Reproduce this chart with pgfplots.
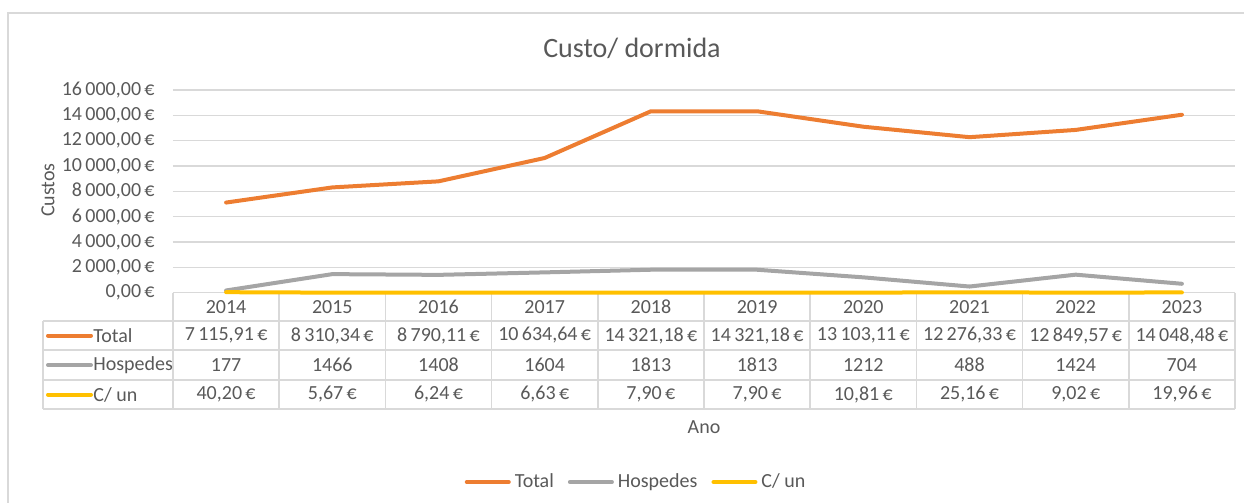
\documentclass[border=0pt]{standalone}
\usepackage{pgfplots}
\pgfplotsset{compat=1.18}
\usepackage{fontspec}
\setmainfont{Carlito}
\definecolor{cOrange}{HTML}{ED7D31}
\definecolor{cGray}{HTML}{A5A5A5}
\definecolor{cYellow}{HTML}{FFC000}
\definecolor{cGrid}{HTML}{D9D9D9}
\definecolor{cText}{HTML}{595959}
\begin{document}
\begin{tikzpicture}[font=\fontsize{10}{12}\selectfont, text=cText]
\useasboundingbox (0,0) rectangle (622pt,-251.5pt);
\draw[cGrid, line width=1pt] (4pt,-251.5pt) -- (4pt,-6.5pt) -- (622pt,-6.5pt);
% data table grid
\begin{scope}[cGrid, line width=0.75pt]
\draw (86.5pt,-146.35pt) -- (617.5pt,-146.35pt);
\foreach \yy in {160.5,175,190,204.5} \draw (21.5pt,-\yy pt) -- (617.5pt,-\yy pt);
\draw (21.5pt,-160.5pt) -- (21.5pt,-204.5pt);
\foreach \k in {0,...,10} \draw ({86.5pt+53.1pt*\k},-146.35pt) -- ({86.5pt+53.1pt*\k},-204.5pt);
\end{scope}
\begin{axis}[
 at={(86.5pt,-146.35pt)}, anchor=south west, scale only axis,
 width=531pt, height=101.35pt,
 xmin=-0.5, xmax=9.5, ymin=0, ymax=16000,
 xtick=\empty, ytick={0,2000,...,16000},
 ymajorgrids, grid style={cGrid, line width=0.75pt},
 axis line style={draw=none}, major tick length=0pt,
 scaled y ticks=false,
 /pgf/number format/assume math mode=true,
 yticklabel={\pgfmathprintnumber[fixed,fixed zerofill,precision=2,use comma,1000 sep={\,}]{\tick}\,€},
 yticklabel style={anchor=east, inner sep=0pt, xshift=-9pt, text=cText, font=\fontsize{10}{12}\selectfont},
 clip=false,
 legend style={at={(0.437,-0.934)}, anchor=center, draw=none, fill=none,
   font=\fontsize{10}{12}\selectfont, text=cText,
   /tikz/every even column/.append style={column sep=5pt}},
 legend columns=3, legend cell align=left,
 legend image code/.code={\draw[#1, line width=2pt] (0pt,0pt) -- (21pt,0pt);},
]
\addplot[cOrange, line width=2pt, line join=round, line cap=round] coordinates {
 (0,7115.91) (1,8310.34) (2,8790.11) (3,10634.64) (4,14321.18)
 (5,14321.18) (6,13103.11) (7,12276.33) (8,12849.57) (9,14048.48)};
\addlegendentry{Total}
\addplot[cGray, line width=2pt, line join=round, line cap=round] coordinates {
 (0,177) (1,1466) (2,1408) (3,1604) (4,1813)
 (5,1813) (6,1212) (7,488) (8,1424) (9,704)};
\addlegendentry{Hospedes}
\addplot[cYellow, line width=2pt, line join=round, line cap=round] coordinates {
 (0,40.20) (1,5.67) (2,6.24) (3,6.63) (4,7.90)
 (5,7.90) (6,10.81) (7,25.16) (8,9.02) (9,19.96)};
\addlegendentry{C/ un}
\end{axis}
\foreach \y [count=\i from 0] in {2014,2015,2016,2017,2018,2019,2020,2021,2022,2023}
  \node at ({113.05pt+53.1pt*\i},-153.4pt) {\y};
\foreach \v [count=\i from 0] in {{7\,115,91\,€},{8\,310,34\,€},{8\,790,11\,€},{10\,634,64\,€},{14\,321,18\,€},{14\,321,18\,€},{13\,103,11\,€},{12\,276,33\,€},{12\,849,57\,€},{14\,048,48\,€}}
  \node at ({113.05pt+53.1pt*\i},-167.75pt) {\v};
\foreach \v [count=\i from 0] in {177,1466,1408,1604,1813,1813,1212,488,1424,704}
  \node at ({113.05pt+53.1pt*\i},-182.5pt) {\v};
\foreach \v [count=\i from 0] in {{40,20\,€},{5,67\,€},{6,24\,€},{6,63\,€},{7,90\,€},{7,90\,€},{10,81\,€},{25,16\,€},{9,02\,€},{19,96\,€}}
  \node at ({113.05pt+53.1pt*\i},-197.25pt) {\v};
\draw[cOrange, line width=2pt, line cap=round] (24pt,-167.75pt) -- (45.5pt,-167.75pt);
\node[anchor=west, inner sep=0pt] at (46.5pt,-167.75pt) {Total};
\draw[cGray, line width=2pt, line cap=round] (24pt,-182.5pt) -- (45.5pt,-182.5pt);
\node[anchor=west, inner sep=0pt] at (46.5pt,-182.5pt) {Hospedes};
\draw[cYellow, line width=2pt, line cap=round] (24pt,-197.25pt) -- (45.5pt,-197.25pt);
\node[anchor=west, inner sep=0pt] at (46.5pt,-197.25pt) {C/ un};
\node at (352pt,-213.5pt) {Ano};
\node[rotate=90] at (24pt,-95pt) {Custos};
\node[font=\fontsize{14}{17}\selectfont] at (316pt,-24pt) {Custo/ dormida};
\end{tikzpicture}
\end{document}
